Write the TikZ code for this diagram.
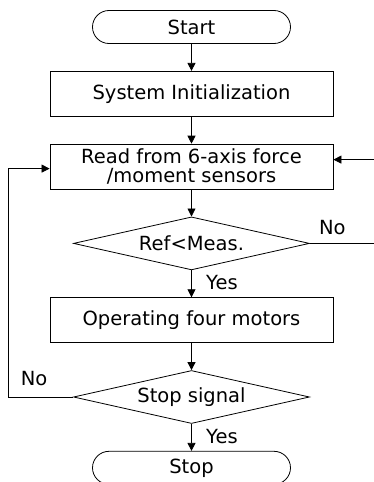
\documentclass[tikz,border=0pt]{standalone}
\usepackage{fontspec}
\setmainfont{DejaVu Sans}
\usepackage{tikz}
\usetikzlibrary{shapes, arrows.meta, positioning, calc}

\begin{document}
\begin{tikzpicture}[node distance=27pt,
	font=\fontsize{19.5}{19}\selectfont,
	line width=0.8pt, >={Triangle[length=8pt,width=8pt]},
	terminal/.style={draw, rounded rectangle, minimum width=198pt, minimum height=33pt, inner sep=0pt},
	process/.style={draw, rectangle, minimum width=283pt, minimum height=45pt, inner sep=3pt, align=center},
	decision/.style={draw, diamond, aspect=4.4, minimum width=236pt, minimum height=53pt, inner sep=0pt}]
	\useasboundingbox (-191.5pt,27pt) rectangle (181.5pt,-455pt);
	\node[terminal] (start)                 {Start};
	\node[process, below =of start] (init)  {System Initialization};
	\node[process, below =of init] (read)   {Read from 6-axis force\\/moment sensors};
	\node[decision, below =of read] (check) {Ref\textless Meas.};
	\node[process, below =of check] (motors) {Operating four motors};
	\node[decision, below =of motors] (stopsig) {Stop signal};
	\node[terminal, below =of stopsig] (stop) {Stop};
	\foreach \from/\to in {start/init, init/read, read/check, motors/stopsig}
		\draw[->] (\from) -- (\to);
	\draw[->] (check) -- node[right=11pt, pos=0.45] {Yes} (motors);
	\draw[->] (stopsig) -- node[right=11pt, pos=0.45] {Yes} (stop);
	% loop back while the force is below the reference
	\draw[->] (check.east) -- node[above=5pt, pos=0.35] {No} ++(64pt,0) |- ([yshift=7pt]read.east);
	% loop back until the stop signal comes
	\draw[->] (stopsig.west) -- node[above=7pt, pos=0.6] {No} ++(-65pt,0) |- ([yshift=-2pt]read.west);
\end{tikzpicture}
\end{document}
